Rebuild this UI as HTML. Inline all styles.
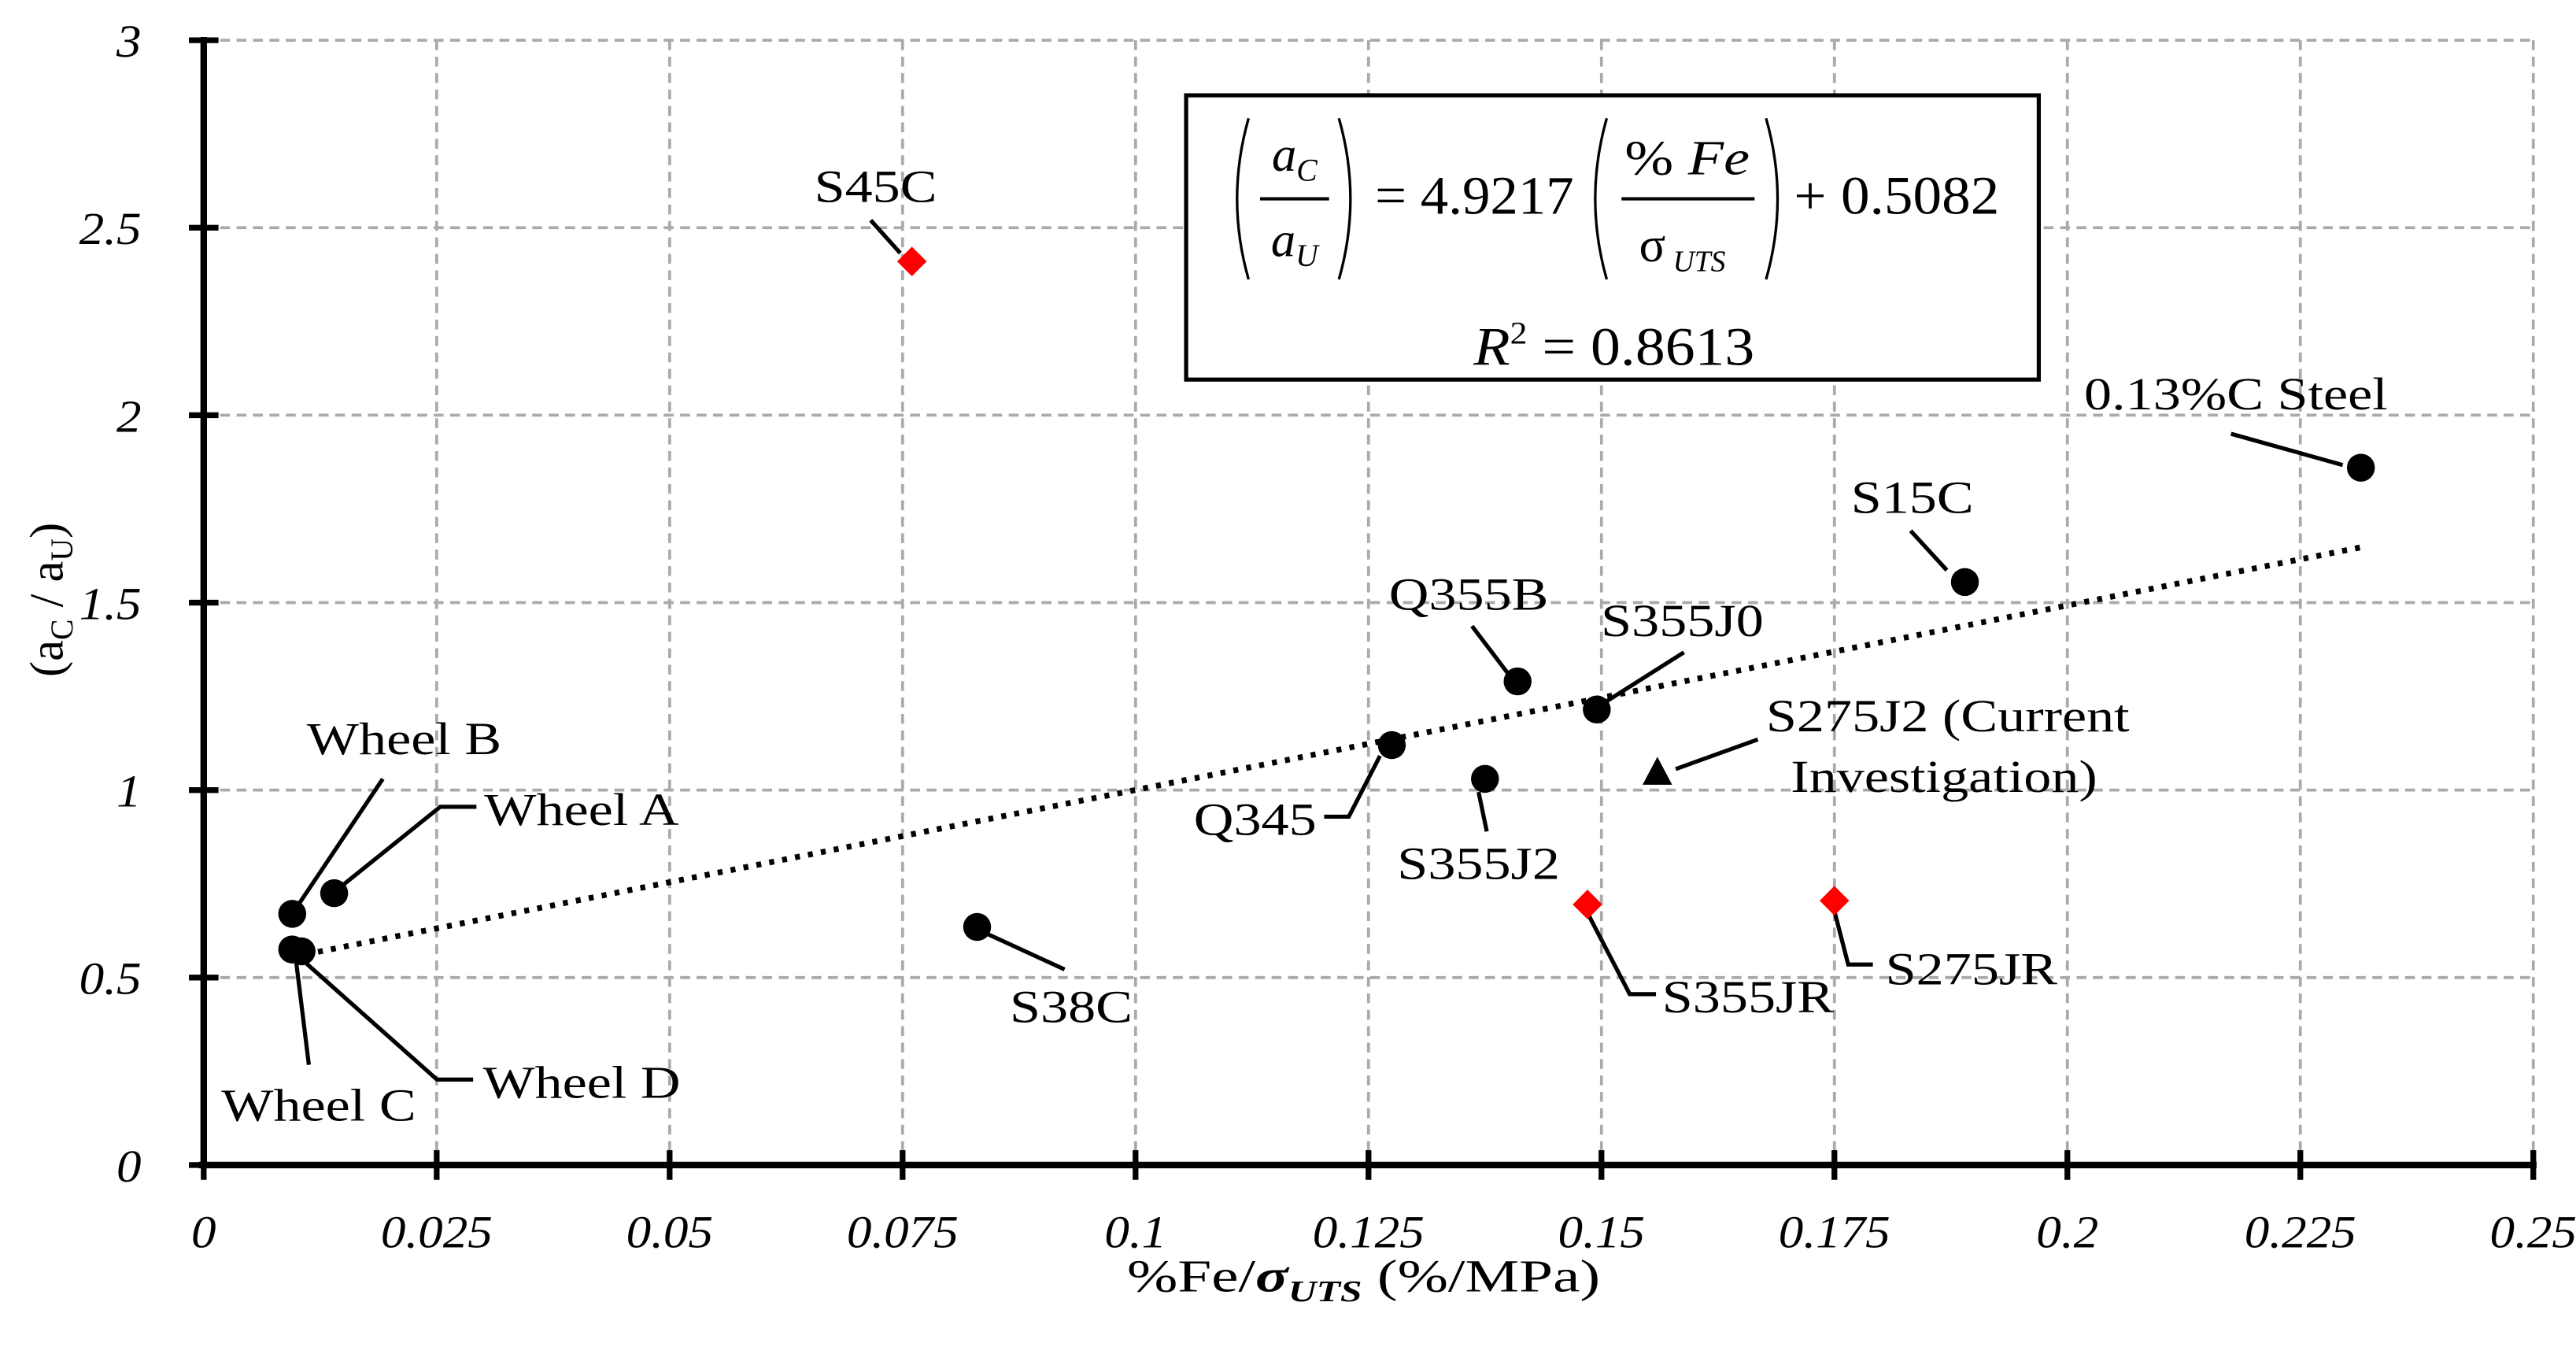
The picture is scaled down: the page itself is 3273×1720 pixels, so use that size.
<!DOCTYPE html>
<html><head><meta charset="utf-8"><style>
html,body{margin:0;padding:0;background:#fff}
svg{display:block}
text{font-family:"Liberation Serif",serif;fill:#000}
</style></head><body>
<svg id="chart" width="3273" height="1720" viewBox="0 0 1568 824" xmlns="http://www.w3.org/2000/svg">
<g id="grid"></g>
<g id="trend"></g>
<g id="leaders" stroke="#000" stroke-width="2.5" fill="none"></g>
<g id="axes"></g>
<g id="points"></g>
<g id="labels" font-size="28"></g>
<g>
<rect x="722" y="58" width="519" height="173" fill="#fff" stroke="#000" stroke-width="2.5"/>
<path d="M760 72 Q746 121 760 170 M815 72 Q829 121 815 170 M978 72 Q964 121 978 170 M1075 72 Q1089 121 1075 170" stroke="#000" stroke-width="1.6" fill="none"/>
<text x="788" y="104" font-size="30" font-style="italic" text-anchor="middle">a<tspan font-size="19" dy="6">C</tspan></text>
<line x1="767" y1="121" x2="809" y2="121" stroke="#000" stroke-width="2"/>
<text x="788" y="156" font-size="30" font-style="italic" text-anchor="middle">a<tspan font-size="19" dy="6">U</tspan></text>
<text x="837" y="130" font-size="33" textLength="121" lengthAdjust="spacingAndGlyphs">= 4.9217</text>
<text x="1027" y="106" font-size="30" text-anchor="middle" textLength="76" lengthAdjust="spacingAndGlyphs">% <tspan font-style="italic">Fe</tspan></text>
<line x1="987" y1="121" x2="1068" y2="121" stroke="#000" stroke-width="2"/>
<text x="1024" y="159" font-size="30" text-anchor="middle">σ<tspan font-size="18" font-style="italic" dy="6"> UTS</tspan></text>
<text x="1092" y="130" font-size="33" textLength="125" lengthAdjust="spacingAndGlyphs">+ 0.5082</text>
<text x="897" y="222" font-size="33" textLength="171" lengthAdjust="spacingAndGlyphs"><tspan font-style="italic">R</tspan><tspan font-size="19" dy="-13">2</tspan><tspan dy="13"> = 0.8613</tspan></text>
</g>
<text transform="translate(38,365) rotate(-90)" font-size="29" text-anchor="middle">(a<tspan font-size="19" dy="6">C</tspan><tspan dy="-6"> / a</tspan><tspan font-size="19" dy="6">U</tspan><tspan dy="-6">)</tspan></text>
<text x="830" y="786" font-size="28" text-anchor="middle" textLength="288" lengthAdjust="spacingAndGlyphs">%Fe/<tspan font-weight="bold" font-style="italic">σ</tspan><tspan font-weight="bold" font-style="italic" font-size="18" dy="6">UTS</tspan><tspan dy="-6">  (%/MPa)</tspan></text>
</svg>
<script>
const xTicks=[0,0.025,0.05,0.075,0.1,0.125,0.15,0.175,0.2,0.225,0.25];
const xTickLabels=["0","0.025","0.05","0.075","0.1","0.125","0.15","0.175","0.2","0.225","0.25"];
const yTicks=[0,0.5,1,1.5,2,2.5,3];
const yTickLabels=["0","0.5","1","1.5","2","2.5","3"];
const circleNames=["Wheel B","Wheel A","Wheel C","Wheel D","S38C","Q345","S355J2","Q355B","S355J0","S15C","0.13%C Steel"];
const circleX=[0.0095,0.014,0.0095,0.0105,0.083,0.1275,0.1375,0.141,0.1495,0.189,0.2315];
const circleY=[0.67,0.725,0.575,0.57,0.635,1.12,1.03,1.29,1.215,1.555,1.86];
const diamondNames=["S45C","S355JR","S275JR"];
const diamondX=[0.076,0.1485,0.175];
const diamondY=[2.41,0.695,0.705];
const triangleNames=["S275J2 (Current Investigation)"];
const triangleX=[0.156];
const triangleY=[1.045];
const trendSlope=4.9217, trendIntercept=0.5082, trendX0=0.0095, trendX1=0.2315;

const X0=124,X1=1542,Y0=709,Y1=24.5;
const sx=v=>X0+(v-0)/(0.25)*(X1-X0);
const sy=v=>Y0-(v/3)*(Y0-Y1);
const NS="http://www.w3.org/2000/svg";
function mk(tag,attrs,parent){const e=document.createElementNS(NS,tag);for(const k in attrs)e.setAttribute(k,attrs[k]);parent.appendChild(e);return e;}
function stretch(t,f){const w=t.getComputedTextLength();if(w>0){t.setAttribute('textLength',(w*f).toFixed(1));t.setAttribute('lengthAdjust','spacingAndGlyphs');}}
const grid=document.getElementById('grid'),axes=document.getElementById('axes'),pts=document.getElementById('points');
xTicks.forEach((t,i)=>{if(i>0){const l=mk('line',{x1:sx(t),x2:sx(t),y1:Y1,y2:Y0,stroke:'#aaa','stroke-width':1.8,'stroke-dasharray':'6,4'},grid);}
 const tk=mk('line',{x1:sx(t),x2:sx(t),y1:Y0-9,y2:Y0+9,stroke:'#000','stroke-width':3.5},axes);
 const tx=mk('text',{x:sx(t),y:Y0+50,'font-size':28,'font-style':'italic','text-anchor':'middle'},axes);tx.textContent=xTickLabels[i];stretch(tx,1.08);});
yTicks.forEach((t,i)=>{if(i>0){const l=mk('line',{x1:X0,x2:X1,y1:sy(t),y2:sy(t),stroke:'#aaa','stroke-width':1.8,'stroke-dasharray':'6,4'},grid);}
 const tk=mk('line',{x1:X0-9,x2:X0+9,y1:sy(t),y2:sy(t),stroke:'#000','stroke-width':3.5},axes);
 const tx=mk('text',{x:X0-38,y:sy(t)+10,'font-size':28,'font-style':'italic','text-anchor':'end'},axes);tx.textContent=yTickLabels[i];stretch(tx,1.08);});
const xa=mk('line',{x1:X0-3,x2:X1+2,y1:Y0,y2:Y0,stroke:'#000','stroke-width':4},axes);
const ya=mk('line',{x1:X0,x2:X0,y1:Y1-2,y2:Y0+2,stroke:'#000','stroke-width':4},axes);
const tl=mk('line',{x1:sx(trendX0),y1:sy(trendSlope*trendX0+trendIntercept),x2:sx(trendX1),y2:sy(trendSlope*trendX1+trendIntercept),stroke:'#000','stroke-width':3.5,'stroke-dasharray':'3,5'},document.getElementById('trend'));

circleX.forEach((x,i)=>{const c=mk('circle',{cx:sx(x),cy:sy(circleY[i]),r:8.5,fill:'#000'},pts);});
diamondX.forEach((x,i)=>{const cx=sx(x),cy=sy(diamondY[i]);const d=mk('polygon',{points:`${cx},${cy-9} ${cx+9},${cy} ${cx},${cy+9} ${cx-9},${cy}`,fill:'#f00'},pts);});
triangleX.forEach((x,i)=>{const cx=sx(x),cy=sy(triangleY[i]);const t=mk('polygon',{points:`${cx},${cy-10} ${cx+9},${cy+7} ${cx-9},${cy+7}`,fill:'#000'},pts);});
const labelDefs=[["S45C",533,123,"middle"],["0.13%C Steel",1361,249,"middle"],["S15C",1164,312,"middle"],["Q355B",894,371,"middle"],["S355J0",1024,387,"middle"],["S275J2 (Current",1075,445,"start"],["Investigation)",1090,482,"start"],["Wheel B",246,459,"middle"],["Wheel A",354,502,"middle"],["Q345",764,508,"middle"],["S355J2",900,535,"middle"],["S38C",652,622,"middle"],["S355JR",1064,616,"middle"],["S275JR",1200,599,"middle"],["Wheel C",194,682,"middle"],["Wheel D",354,668,"middle"]];
const lab=document.getElementById('labels');
labelDefs.forEach(d=>{const t=mk('text',{x:d[1],y:d[2],'text-anchor':d[3]},lab);t.textContent=d[0];stretch(t,1.2);});
const leaderDefs=["M530 134 L548 154","M1358 264 L1426 283","M1163 323 L1185 347","M896 381 L918 410","M1025 397 L976 428","M1070 450 L1020 468","M233 474 L180 553","M290 491 L268 491 L207 540","M806 497 L821 497 L840 460","M905 506 L900 482","M648 590 L598 567","M966 555 L992 605 L1008 605","M1117 556 L1125 587 L1140 587","M180 583 L188 648","M185 585 L266 657 L288 657"];
const ld=document.getElementById('leaders');
leaderDefs.forEach(p=>{const e=mk('path',{d:p},ld);});
</script>
</body></html>
